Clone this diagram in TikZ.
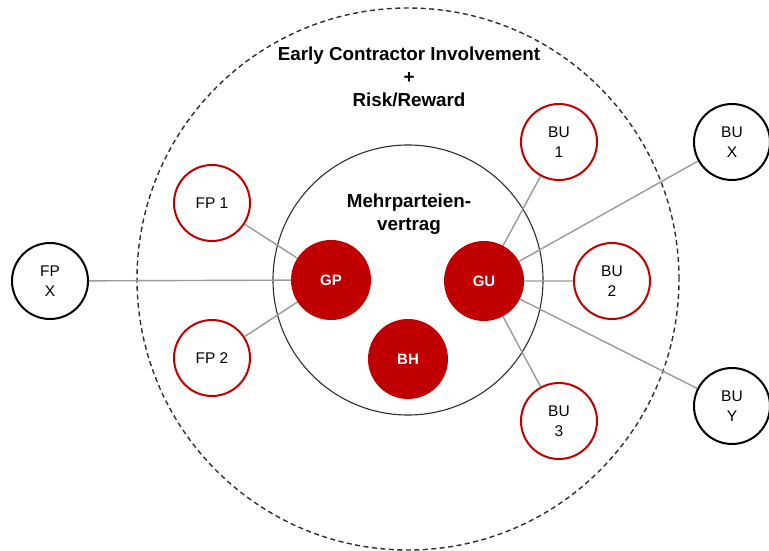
\documentclass[tikz,border=0pt]{standalone}
\usepackage{fontspec}
\setmainfont{Liberation Sans}
\definecolor{red700}{HTML}{C00000}
\definecolor{gray500}{HTML}{999999}
\definecolor{gray800}{HTML}{2E2E2E}
\tikzstyle{partner}=[circle, draw=red700, line width=2pt, fill=white, minimum size=76pt, inner sep=0pt, align=center, font=\fontsize{15.5}{20}\selectfont]
\tikzstyle{extern}=[partner, draw=black]
\tikzstyle{kern}=[circle, fill=red700, minimum size=80pt, inner sep=0pt, text=white, font=\fontsize{15}{18}\selectfont\bfseries]
\tikzstyle{titel}=[align=center, font=\fontsize{18.8}{22.8}\selectfont\bfseries]
\tikzstyle{verbindung}=[draw=gray500, line width=1.4pt]

\begin{document}
\begin{tikzpicture}[x=1pt, y=-1pt]
					\useasboundingbox (0,0) rectangle (769,551);
					\path[draw=gray800, line width=1.4pt, dash pattern=on 5pt off 3.5pt] (408,279) circle (271pt);
					\path[draw=gray800, line width=1.1pt] (408,280) circle (135pt);
					\node[titel] (ecti) at (409,77) {Early Contractor Involvement\\+\\Risk/Reward};
					\node[titel] (mpv) at (409,214) {Mehrparteien-\\vertrag};
					\node[kern] (gp) at (331,280) {GP};
					\node[kern] (gu) at (484,281) {GU};
					\node[kern] (bh) at (408,359) {BH};
					\node[partner] (fp1) at (212,203) {FP 1};
					\node[partner] (fp2) at (212,358) {FP 2};
					\node[extern] (fpx) at (50,281) {FP\\X};
					\node[partner] (bu1) at (559,142) {BU\\1};
					\node[partner] (bu2) at (612,281) {BU\\2};
					\node[partner] (bu3) at (559,421) {BU\\3};
					\node[extern] (bux) at (732,142) {BU\\X};
					\node[extern] (buy) at (732,406) {BU\\Y};
					\path[verbindung] (gp) -- (fp1) (gp) -- (fp2) (gp) -- (fpx);
					\path[verbindung] (gu) -- (bu1) (gu) -- (bu2) (gu) -- (bu3) (gu) -- (bux) (gu) -- (buy);
				\end{tikzpicture}
\end{document}
